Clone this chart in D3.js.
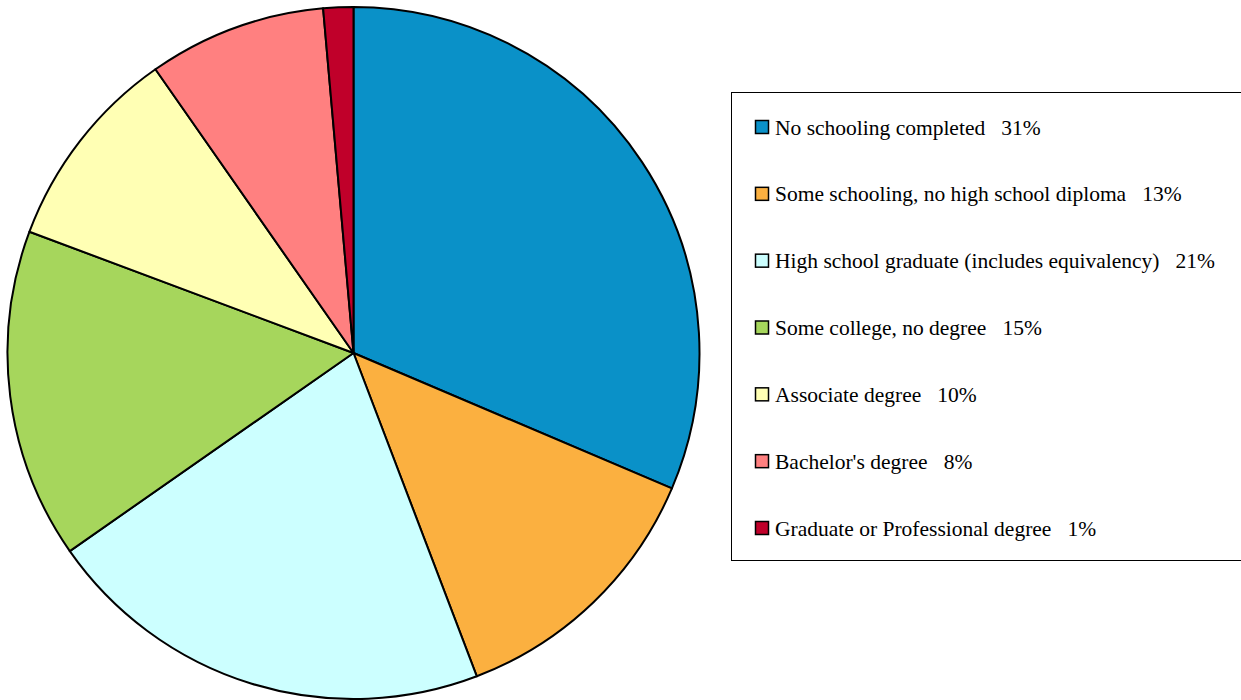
<!DOCTYPE html>
<html>
<head>
<meta charset="utf-8">
<script src="https://cdn.jsdelivr.net/npm/d3@7"></script>
<style>
html,body{margin:0;padding:0;background:#fff;}
svg{display:block;}
.lg{font-family:"Liberation Serif","Times New Roman",Times,"DejaVu Serif",serif;font-size:21.5px;white-space:pre;}
</style>
</head>
<body>
<svg id="chart" width="1241" height="700"></svg>
<script>
const categories = [
  "No schooling completed",
  "Some schooling, no high school diploma",
  "High school graduate (includes equivalency)",
  "Some college, no degree",
  "Associate degree",
  "Bachelor's degree",
  "Graduate or Professional degree"
];
const values = [31.4, 12.8, 21.1, 15.4, 9.6, 8.3, 1.4];
const percentLabels = ["31%", "13%", "21%", "15%", "10%", "8%", "1%"];
const colors = ["#0a91c8", "#fbb040", "#ccffff", "#a6d65c", "#ffffb4", "#ff8080", "#c0002a"];

const svg = d3.select("#chart");
const cx = 353.5, cy = 353, r = 346;

const data = categories.map((c, i) => ({ name: c, value: values[i], label: percentLabels[i], color: colors[i] }));

const pie = d3.pie().value(d => d.value).sort(null);
const arc = d3.arc().innerRadius(0).outerRadius(r);

const g = svg.append("g").attr("transform", `translate(${cx},${cy})`);
g.selectAll("path")
  .data(pie(data))
  .join("path")
  .attr("d", arc)
  .attr("fill", d => d.data.color)
  .attr("stroke", "#000")
  .attr("stroke-width", 2)
  .attr("stroke-linejoin", "round");

// Legend
const lx = 731, ly = 92, lw = 520, lh = 468;
svg.append("rect")
  .attr("x", lx + 0.5).attr("y", ly + 0.5)
  .attr("width", lw).attr("height", lh)
  .attr("fill", "#fff").attr("stroke", "#000").attr("stroke-width", 1);

const rowY = d3.scalePoint().domain(categories).range([127, 528]);
const items = svg.append("g").selectAll("g")
  .data(data)
  .join("g")
  .attr("transform", d => `translate(0,${rowY(d.name)})`);

items.append("rect")
  .attr("x", 755.5).attr("y", -6.5)
  .attr("width", 13).attr("height", 13)
  .attr("fill", d => d.color)
  .attr("stroke", "#000").attr("stroke-width", 1.5);

items.append("text")
  .attr("class", "lg")
  .attr("x", 775).attr("y", 0)
  .attr("dy", "0.35em")
  .attr("fill", "#000")
  .text(d => d.name + "   " + d.label);
</script>
</body>
</html>
